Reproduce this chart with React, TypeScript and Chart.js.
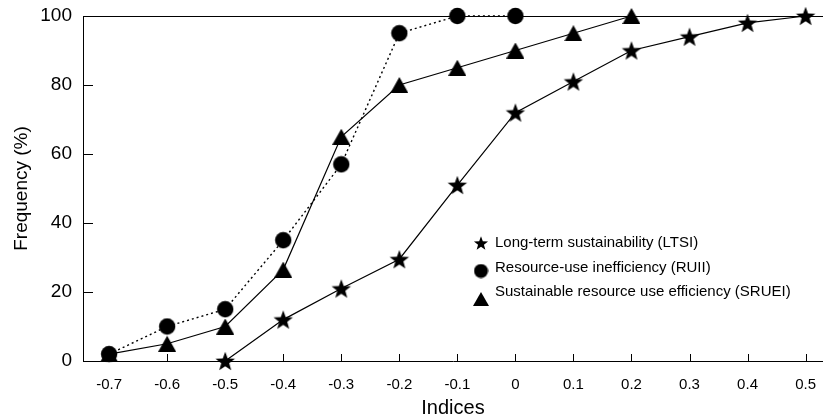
import { useEffect, useRef } from "react";
import { Chart, registerables } from "chart.js";

Chart.register(...registerables);

const xTickValues = [-0.7, -0.6, -0.5, -0.4, -0.3, -0.2, -0.1, 0, 0.1, 0.2, 0.3, 0.4, 0.5];
const yTickValues = [0, 20, 40, 60, 80, 100];

const ltsiX = [-0.5, -0.4, -0.3, -0.2, -0.1, 0, 0.1, 0.2, 0.3, 0.4, 0.5];
const ltsiY = [0, 12, 21, 29.5, 51, 72, 81, 90, 94, 98, 100];

const ruiiX = [-0.7, -0.6, -0.5, -0.4, -0.3, -0.2, -0.1, 0];
const ruiiY = [2, 10, 15, 35, 57, 95, 100, 100];

const srueiX = [-0.7, -0.6, -0.5, -0.4, -0.3, -0.2, -0.1, 0, 0.1, 0.2];
const srueiY = [2, 5, 10, 26.5, 65, 80, 85, 90, 95, 100];

const seriesNames = [
  "Long-term sustainability (LTSI)",
  "Resource-use inefficiency (RUII)",
  "Sustainable resource use efficiency (SRUEI)",
];

const xTitle = "Indices";
const yTitle = "Frequency (%)";

const INK = "#000";
const FONT = "'Liberation Sans', Arial, sans-serif";

function makeStar(size: number, outer: number, inner: number) {
  const c = document.createElement("canvas");
  c.width = size;
  c.height = size;
  const g = c.getContext("2d")!;
  const cx = size / 2;
  const cy = size / 2 + outer * 0.1;
  g.beginPath();
  for (let i = 0; i < 10; i++) {
    const r = i % 2 === 0 ? outer : inner;
    const a = -Math.PI / 2 + (i * Math.PI) / 5;
    const px = cx + r * Math.cos(a);
    const py = cy + r * Math.sin(a);
    if (i === 0) g.moveTo(px, py);
    else g.lineTo(px, py);
  }
  g.closePath();
  g.fillStyle = INK;
  g.fill();
  return c;
}

function makeCircle(size: number, r: number) {
  const c = document.createElement("canvas");
  c.width = size;
  c.height = size;
  const g = c.getContext("2d")!;
  g.beginPath();
  g.arc(size / 2, size / 2, r, 0, Math.PI * 2);
  g.fillStyle = INK;
  g.fill();
  return c;
}

function makeTriangle(w: number, h: number) {
  const c = document.createElement("canvas");
  c.width = w;
  c.height = h;
  const g = c.getContext("2d")!;
  g.beginPath();
  g.moveTo(w / 2, 0);
  g.lineTo(w, h);
  g.lineTo(0, h);
  g.closePath();
  g.fillStyle = INK;
  g.fill();
  return c;
}

function pairs(xs: number[], ys: number[]) {
  return xs.map((x, i) => ({ x, y: ys[i] }));
}

export default function App() {
  const ref = useRef<HTMLCanvasElement | null>(null);

  useEffect(() => {
    document.body.style.margin = "0";
    const canvas = ref.current;
    if (!canvas) return;

    const star = makeStar(22, 10.2, 4.2);
    const circle = makeCircle(18, 8.2);
    const tri = makeTriangle(18, 16);
    const starL = makeStar(16, 7.4, 3.1);
    const circleL = makeCircle(15, 7);
    const triL = makeTriangle(16, 14);

    const decor = {
      id: "decor",
      afterDraw(chart: any) {
        const { ctx, chartArea, scales } = chart;
        const xs = scales.x;
        const ys = scales.y;
        ctx.save();
        ctx.strokeStyle = INK;
        ctx.lineWidth = 1;
        const yTop = Math.round(ys.getPixelForValue(100)) + 0.5;
        ctx.beginPath();
        ctx.moveTo(chartArea.left, yTop);
        ctx.lineTo(chartArea.right, yTop);
        ctx.stroke();
        yTickValues.forEach((v) => {
          if (v === 0 || v === 100) return;
          const py = Math.round(ys.getPixelForValue(v)) + 0.5;
          ctx.beginPath();
          ctx.moveTo(chartArea.left, py);
          ctx.lineTo(chartArea.left + 10, py);
          ctx.stroke();
        });
        xTickValues.forEach((v) => {
          const px = Math.round(xs.getPixelForValue(v)) + 0.5;
          ctx.beginPath();
          ctx.moveTo(px, chartArea.bottom);
          ctx.lineTo(px, chartArea.bottom - 7);
          ctx.stroke();
        });
        const icons = [starL, circleL, triL];
        const iconY = [243, 271, 299];
        const textY = [243, 268, 292];
        const iconX = 481;
        ctx.fillStyle = INK;
        ctx.font = `15px ${FONT}`;
        ctx.textBaseline = "middle";
        ctx.textAlign = "left";
        seriesNames.forEach((name, i) => {
          const ic = icons[i];
          ctx.drawImage(ic, iconX - ic.width / 2, iconY[i] - ic.height / 2);
          ctx.fillText(name, 495, textY[i]);
        });
        ctx.restore();
      },
    };

    const chart = new Chart(canvas, {
      type: "line",
      data: {
        datasets: [
          {
            label: seriesNames[0],
            data: pairs(ltsiX, ltsiY),
            borderColor: INK,
            borderWidth: 1.2,
            pointStyle: star as any,
            pointRadius: 10,
            clip: false as any,
            tension: 0,
          },
          {
            label: seriesNames[1],
            data: pairs(ruiiX, ruiiY),
            borderColor: INK,
            borderWidth: 1.4,
            borderDash: [2, 3],
            pointStyle: circle as any,
            pointRadius: 9,
            clip: false as any,
            tension: 0,
          },
          {
            label: seriesNames[2],
            data: pairs(srueiX, srueiY),
            borderColor: INK,
            borderWidth: 1.2,
            pointStyle: tri as any,
            pointRadius: 9,
            clip: false as any,
            tension: 0,
          },
        ],
      },
      options: {
        animation: false,
        responsive: false,
        devicePixelRatio: 1,
        layout: { autoPadding: false, padding: { top: 16, right: 0, left: 0, bottom: 0 } },
        plugins: {
          legend: { display: false },
          tooltip: { enabled: false },
        },
        scales: {
          x: {
            type: "linear",
            min: -0.745,
            max: 0.53,
            grid: { display: false, drawTicks: false },
            border: { display: true, color: INK, width: 1 },
            afterBuildTicks: (s: any) => {
              s.ticks = xTickValues.map((v) => ({ value: v }));
            },
            afterFit: (s: any) => {
              s.height = 55;
              s.paddingLeft = 0;
              s.paddingRight = 0;
            },
            ticks: {
              autoSkip: false,
              maxRotation: 0,
              minRotation: 0,
              padding: 15,
              color: INK,
              font: { family: FONT, size: 15 },
              callback: (v: any) => String(Math.round(Number(v) * 10) / 10),
            },
            title: {
              display: true,
              text: xTitle,
              color: INK,
              font: { family: FONT, size: 20, lineHeight: 1 },
              padding: { top: 0, bottom: -2 },
            },
          },
          y: {
            type: "linear",
            min: 0,
            max: 100,
            grid: { display: false, drawTicks: false },
            border: { display: true, color: INK, width: 1 },
            afterBuildTicks: (s: any) => {
              s.ticks = yTickValues.map((v) => ({ value: v }));
            },
            afterFit: (s: any) => {
              s.width = 83;
              s.paddingTop = 0;
              s.paddingBottom = 0;
            },
            ticks: {
              padding: 11,
              color: INK,
              font: { family: FONT, size: 19 },
            },
            title: {
              display: true,
              text: yTitle,
              color: INK,
              font: { family: FONT, size: 19 },
              padding: { top: 10, bottom: 0 },
            },
          },
        },
      },
      plugins: [decor],
    });

    return () => chart.destroy();
  }, []);

  return <canvas ref={ref} width={823} height={416} style={{ display: "block" }} />;
}
